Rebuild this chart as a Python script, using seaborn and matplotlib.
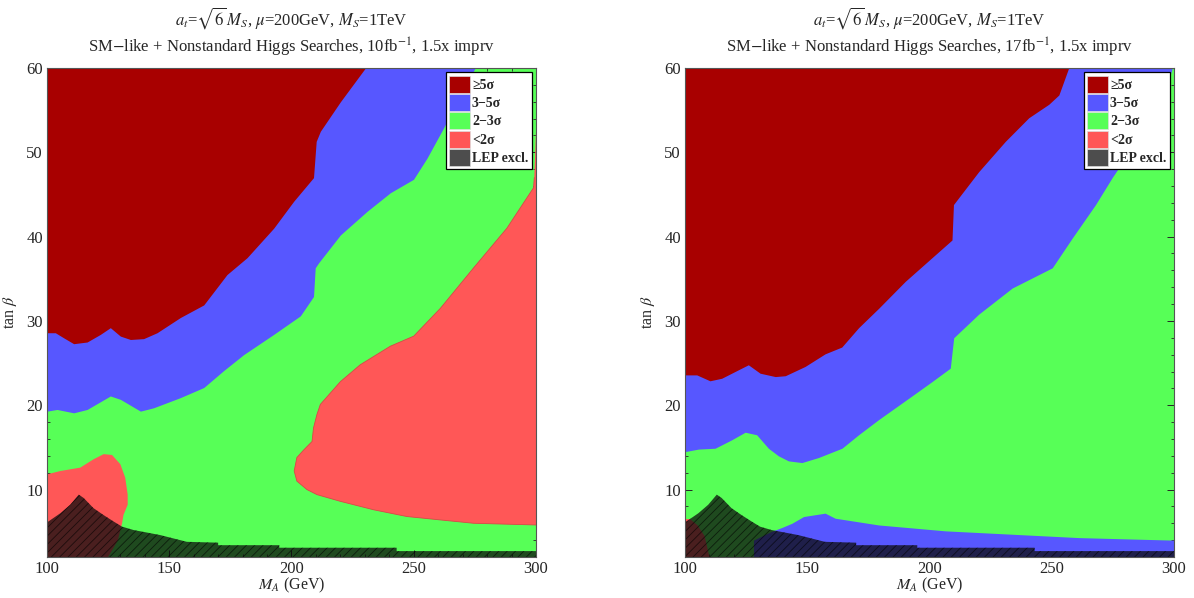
import numpy as np
import pandas as pd
import seaborn as sns
import matplotlib.pyplot as plt
from matplotlib.patches import Patch
from matplotlib.ticker import MultipleLocator

# colours of the significance regions
c_5sig = '#A80000'
c_35sig = '#5757FF'
c_23sig = '#57FF57'
c_2sig = '#FF5757'
c_lep = '#4D4D4D'

# ---- left panel (10 fb^-1): boundaries ----
p1_red_M = [100, 103.4, 106.8, 110.9, 116.4, 121.8, 125.9, 130.0, 134.1, 139.5, 145.0, 154.5,
            164.1, 173.6, 181.8, 192.7, 200.9, 209.0, 210.1, 211.8, 220.0, 230.2]
p1_red_tb = [28.6, 28.6, 28.0, 27.3, 27.5, 28.4, 29.2, 28.2, 27.8, 27.9, 28.6, 30.4,
             31.9, 35.5, 37.5, 41.0, 44.2, 47.0, 51.3, 52.5, 56.0, 60.0]

p1_blue_M = [100, 104.1, 110.9, 116.4, 125.9, 130.0, 138.2, 143.6, 154.5, 164.1, 172.2, 180.4,
             192.7, 203.6, 209.0, 209.7, 211.1, 220.0, 230.9, 240.4, 249.9, 255.4, 262.2, 269.0, 275.1]
p1_blue_tb = [19.3, 19.5, 19.1, 19.5, 21.1, 20.7, 19.3, 19.7, 20.9, 22.1, 24.1, 26.0,
              28.4, 30.6, 32.9, 36.3, 36.9, 40.2, 43.0, 45.2, 46.8, 49.3, 52.9, 56.8, 60.0]

# <2 sigma region on the right (closed outline)
p1_low_M = [300, 299.3, 299.0, 288.1, 274.5, 260.9, 250.0, 240.4, 228.1, 220.0, 211.8, 210.4,
            209.0, 208.4, 205.0, 202.2, 201.1, 202.2, 206.3, 210.4, 220.0, 233.6, 247.2,
            260.8, 274.5, 300]
p1_low_tb = [52.5, 47.0, 45.8, 41.0, 36.3, 31.5, 28.2, 27.0, 24.8, 22.8, 20.1, 18.9,
             17.3, 15.7, 14.7, 13.8, 12.2, 11.0, 10.0, 9.4, 8.6, 7.6, 6.8,
             6.4, 6.0, 5.8]

# <2 sigma pocket at low M_A (closed outline)
p1_pocket_M = [100, 100, 105.5, 113.6, 119.1, 123.2, 126.6, 130.0, 132.0, 133.0, 133.0,
               131.3, 130.7, 129.0, 125.0]
p1_pocket_tb = [2.0, 11.8, 12.2, 12.6, 13.6, 14.2, 14.1, 13.0, 11.4, 9.4, 8.2,
                7.0, 6.0, 4.0, 2.0]

# ---- right panel (17 fb^-1) ----
p2_red_M = [100, 104.8, 110.2, 115.0, 121.8, 125.9, 130.7, 136.9, 141.0, 149.1, 157.3, 164.1,
            171.0, 179.2, 190.1, 201.0, 209.2, 209.8, 211.9, 220.1, 231.0, 240.6, 248.8, 252.9, 256.9]
p2_red_tb = [23.6, 23.6, 22.9, 23.2, 24.2, 24.8, 23.8, 23.4, 23.5, 24.6, 26.1, 26.9,
             29.2, 31.5, 34.7, 37.5, 39.6, 43.8, 44.6, 47.7, 51.3, 54.1, 55.7, 56.8, 60.0]

p2_blue_M = [100, 105.5, 112.3, 119.1, 124.6, 129.3, 134.1, 138.2, 142.3, 147.8, 154.6, 164.2,
             171.0, 179.2, 192.8, 201.0, 208.5, 209.9, 220.1, 233.8, 242.0, 250.2, 258.3,
             267.9, 274.7, 285.6, 295.2, 299.3]
p2_blue_tb = [14.5, 14.8, 14.9, 15.9, 16.8, 16.5, 14.9, 14.0, 13.4, 13.2, 13.8, 14.9,
              16.5, 18.3, 21.1, 22.8, 24.4, 28.0, 30.8, 33.9, 35.1, 36.3, 39.8,
              43.8, 47.0, 51.7, 56.0, 60.0]

# low-tan(beta) 3-5 sigma band (upper edge)
p2_band_M = [128, 135, 139.6, 143.7, 148.5, 157.3, 161.4, 179.2, 206.5, 233.8, 261.1, 300]
p2_band_tb = [4.0, 5.0, 5.5, 6.0, 6.8, 7.2, 6.6, 5.8, 5.1, 4.7, 4.3, 4.0]

# tiny <2 sigma corner
p2_pocket_M = [100, 100, 102, 105, 108, 110]
p2_pocket_tb = [2.0, 6.5, 6.5, 5.8, 4.5, 2.0]

# ---- LEP exclusion (same in both panels, upper edge) ----
lep_M = [100, 105.5, 109.5, 113.0, 115.0, 119.0, 123.0, 127.3, 130.7, 135.4, 146.3, 157.2,
         170.0, 170.0, 195.0, 195.0, 243.0, 243.0, 300]
lep_tb = [6.1, 7.2, 8.2, 9.4, 9.0, 7.8, 7.0, 6.2, 5.6, 5.2, 4.6, 3.8,
          3.7, 3.4, 3.4, 3.1, 3.1, 2.7, 2.7]

titles = [r'SM$-$like + Nonstandard Higgs Searches, 10fb$^{-1}$, 1.5x imprv',
          r'SM$-$like + Nonstandard Higgs Searches, 17fb$^{-1}$, 1.5x imprv']
subtitle = r'$a_t$=$\sqrt{6}\,M_S$, $\mu$=200GeV, $M_S$=1TeV'
legend_labels = ['≥5σ', '3−5σ', '2−3σ', '<2σ', 'LEP excl.']
legend_colors = [c_5sig, c_35sig, c_23sig, c_2sig, c_lep]

sns.set_theme(style='ticks')
plt.rcParams['font.family'] = ['Liberation Serif', 'DejaVu Serif']
plt.rcParams['mathtext.fontset'] = 'stix'
plt.rcParams['hatch.linewidth'] = 0.6

fig = plt.figure(figsize=(11.94, 5.98), dpi=100)
ax1 = fig.add_axes([47 / 1194, 41 / 598, 489 / 1194, 489 / 598])
ax2 = fig.add_axes([685 / 1194, 41 / 598, 489 / 1194, 489 / 598])


def draw_panel(ax, red_M, red_tb, blue_M, blue_tb, title):
    ax.set_facecolor(c_23sig)
    ax.fill_between(blue_M, blue_tb, 60, color=c_35sig, lw=0)
    ax.fill_between(red_M, red_tb, 60, color=c_5sig, lw=0)
    ax.set_xlim(100, 300)
    ax.set_ylim(2, 60)
    ax.xaxis.set_major_locator(MultipleLocator(50))
    ax.xaxis.set_minor_locator(MultipleLocator(10))
    ax.yaxis.set_major_locator(MultipleLocator(10))
    ax.yaxis.set_minor_locator(MultipleLocator(2))
    ax.tick_params(which='both', direction='in', top=True, right=True, labelsize=12, pad=3)
    ax.tick_params(which='major', length=5, width=0.7)
    ax.tick_params(which='minor', length=2.5, width=0.6)
    for s in ax.spines.values():
        s.set_linewidth(0.8)
        s.set_color('#555555')
    ax.set_xlabel(r'$M_A$ (GeV)', fontsize=11.5, labelpad=-1)
    ax.set_ylabel(r'tan $\beta$', fontsize=11.5, labelpad=5)
    ax.text(0.5, 1.102, subtitle, transform=ax.transAxes, ha='center', va='center', fontsize=12)
    ax.text(0.5, 1.043, title, transform=ax.transAxes, ha='center', va='center', fontsize=12)


def draw_lep(ax):
    ax.fill_between(lep_M, 2, lep_tb, facecolor=(0.05, 0.05, 0.05, 0.75),
                    edgecolor=(0, 0, 0, 0.6), hatch='////', lw=0)


def add_legend(ax):
    handles = [Patch(facecolor=c, edgecolor='#dddddd', lw=0.5) for c in legend_colors]
    leg = ax.legend(handles, legend_labels, loc='upper right', borderaxespad=0.3,
                    fancybox=False, framealpha=1, edgecolor='black',
                    prop={'family': 'Liberation Serif', 'weight': 'bold', 'size': 10},
                    handlelength=1.5, handleheight=1.5, labelspacing=0.1,
                    handletextpad=0.15, borderpad=0.25)
    leg.get_frame().set_linewidth(0.9)


# left panel
draw_panel(ax1, p1_red_M, p1_red_tb, p1_blue_M, p1_blue_tb, titles[0])
ax1.fill(p1_low_M, p1_low_tb, color=c_2sig, lw=0)
ax1.fill(p1_pocket_M, p1_pocket_tb, color=c_2sig, lw=0)
edge = pd.DataFrame({'M': p1_low_M[1:], 'tb': p1_low_tb[1:]})
sns.lineplot(data=edge, x='M', y='tb', sort=False, estimator=None, ax=ax1,
             color='#D84848', lw=0.6)
draw_lep(ax1)
add_legend(ax1)

# right panel
draw_panel(ax2, p2_red_M, p2_red_tb, p2_blue_M, p2_blue_tb, titles[1])
ax2.fill_between(p2_band_M, 2, p2_band_tb, color=c_35sig, lw=0)
ax2.fill(p2_pocket_M, p2_pocket_tb, color=c_2sig, lw=0)
draw_lep(ax2)
add_legend(ax2)

fig.savefig('out.png', dpi=100)
